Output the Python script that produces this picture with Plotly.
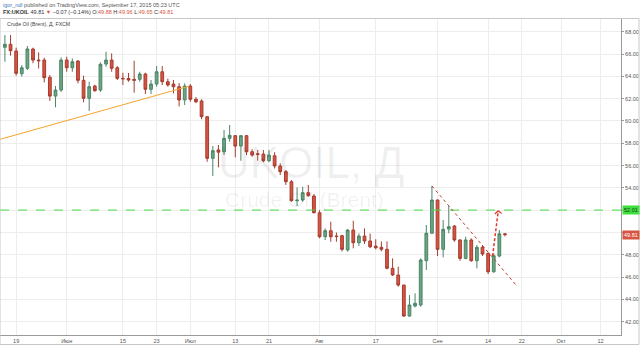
import pandas as pd
import plotly.graph_objects as go

# ---------------- data ----------------
dates = pd.bdate_range("2015-05-15", "2015-09-17")

opens = [66.60, 66.87, 66.27, 64.23, 64.72, 66.45, 65.46, 65.46, 63.91, 62.23, 62.77,
         65.46, 64.77, 65.37, 63.64, 62.03, 63.13, 62.77, 65.10, 65.46, 64.77, 63.82,
         63.80, 63.73, 63.73, 64.21, 62.84, 63.31, 64.41, 63.52, 63.31, 63.07, 61.88,
         63.13, 61.94, 61.79, 60.38, 56.65, 57.40, 57.24, 58.44, 58.68, 57.75, 58.68,
         57.24, 57.06, 57.03, 56.43, 56.88, 55.96, 55.45, 54.55, 52.85, 52.91, 53.57, 53.27,
         51.77, 49.62, 50.16, 49.68, 49.71, 48.43, 50.22, 49.08, 49.68, 49.24, 48.78,
         48.67, 48.49, 46.79, 46.19, 45.29, 42.51, 43.41, 43.50, 47.47, 49.93,
         52.91, 48.49, 50.31, 50.58, 49.33, 47.68, 49.33, 47.47, 48.67, 48.13, 46.48, 47.89, 49.88]
highs = [67.70, 67.70, 66.57, 65.01, 66.72, 66.57, 66.15, 65.67, 64.12, 63.13, 65.70,
         65.76, 65.61, 65.46, 64.06, 63.52, 63.25, 65.25, 66.20, 66.06, 64.92, 64.32,
         64.30, 65.40, 64.41, 64.32, 63.67, 64.92, 64.92, 63.80, 63.67, 63.40, 63.37,
         63.30, 62.15, 61.94, 60.44, 57.75, 57.84, 59.19, 59.64, 58.74, 58.74, 58.74,
         57.46, 57.40, 57.40, 57.40, 57.20, 56.20, 55.60, 54.70, 54.05, 54.10, 54.26, 53.45,
         52.00, 50.37, 50.97, 50.00, 49.80, 50.30, 51.05, 49.92, 50.37, 49.90, 49.39,
         49.20, 49.20, 47.68, 46.93, 45.30, 44.39, 44.55, 47.68, 50.67, 54.17,
         52.95, 51.12, 52.37, 50.67, 49.40, 49.62, 49.48, 48.88, 48.88, 48.19, 48.13, 50.22, 49.96]
lows = [65.31, 65.85, 64.06, 63.97, 64.57, 65.17, 64.70, 63.46, 61.79, 61.22, 62.60,
        64.41, 64.41, 63.37, 61.67, 60.89, 62.62, 62.60, 64.86, 64.41, 63.67, 63.22,
        63.52, 62.53, 63.52, 62.41, 62.41, 63.07, 63.22, 63.07, 62.47, 61.30, 61.43,
        61.72, 61.60, 60.15, 56.34, 55.06, 55.84, 56.94, 58.14, 56.74, 56.43, 56.94,
        56.79, 56.43, 56.30, 56.30, 55.74, 55.15, 54.26, 52.76, 52.37, 52.76, 53.20, 51.72,
        49.48, 49.33, 49.17, 49.17, 48.30, 48.28, 48.58, 48.79, 48.97, 48.60, 48.49,
        48.31, 46.70, 46.10, 45.14, 42.45, 42.45, 43.29, 43.35, 46.64, 49.90,
        47.89, 47.77, 49.93, 49.17, 47.47, 47.60, 47.38, 46.79, 47.89, 46.28, 46.39, 47.77, 49.65]
closes = [66.87, 66.30, 64.27, 64.77, 66.45, 65.46, 65.40, 63.88, 62.23, 62.77, 65.46,
          64.77, 65.31, 63.64, 62.03, 63.07, 62.71, 65.08, 65.46, 64.72, 63.82, 63.78,
          63.67, 63.65, 64.21, 62.84, 63.31, 64.41, 63.52, 63.22, 63.07, 61.88, 63.13,
          61.94, 61.72, 60.38, 56.65, 57.33, 57.20, 58.44, 58.71, 57.75, 58.68, 57.24,
          56.94, 57.00, 56.43, 56.94, 55.96, 55.45, 54.55, 52.85, 52.90, 53.57, 53.30, 51.77,
          49.62, 50.16, 49.62, 49.64, 48.49, 50.22, 49.08, 49.68, 49.24, 48.72, 48.63,
          48.49, 46.79, 46.19, 45.29, 42.51, 43.50, 43.65, 47.53, 49.93, 52.91,
          48.49, 50.28, 50.52, 49.33, 47.68, 49.33, 47.47, 48.67, 48.07, 46.48, 47.92, 49.88, 49.81]

x_tick_dates = ["2015-05-19", "2015-06-01", "2015-06-15", "2015-06-23", "2015-07-01",
                "2015-07-13", "2015-07-21", "2015-08-03", "2015-08-17", "2015-09-01",
                "2015-09-14", "2015-09-22", "2015-10-01", "2015-10-12"]
x_tick_labels = ["19", "Июн", "15", "23", "Июл", "13", "21", "Авг", "17", "Сен",
                 "14", "22", "Окт", "12"]
y_ticks = [42, 44, 46, 48, 50, 52, 54, 56, 58, 60, 62, 64, 66, 68]
y_hidden_labels = [50, 52]   # covered by the price labels in the reference

level_price = 52.01
last_price = 49.81

# drawings (date, price)
orange_line = [("2015-05-14 03:00", 58.35), ("2015-06-30 19:00", 63.12)]
red_trend = [("2015-08-31", 54.17), ("2015-09-21 01:40", 45.23)]
red_arrow = [("2015-09-14 19:12", 47.89), ("2015-09-15 19:12", 51.95)]
arrow_wings = [("2015-09-15 04:48", 51.66), ("2015-09-16 09:36", 51.70)]

x_range = ["2015-05-14 03:00", "2015-10-15 15:36"]
y_range = [40.81, 69.14]

# ---------------- styles ----------------
UP = "#6ba583"
UP_LINE = "#4a8566"
DN = "#d75442"
DN_LINE = "#a63d2f"
GRID = "#ededed"
FONT = "Liberation Sans, Arial, sans-serif"

fig = go.Figure()
fig.add_trace(go.Candlestick(
    x=dates, open=opens, high=highs, low=lows, close=closes,
    increasing=dict(fillcolor=UP, line=dict(color=UP_LINE, width=1)),
    decreasing=dict(fillcolor=DN, line=dict(color=DN_LINE, width=1)),
    whiskerwidth=0, hoverinfo="skip", showlegend=False,
))

fig.update_layout(
    width=640, height=347,
    margin=dict(l=0, r=19, t=19, b=12, autoexpand=False),
    paper_bgcolor="white", plot_bgcolor="white",
    showlegend=False,
    font=dict(family=FONT, size=5.5, color="#555"),
)
fig.update_xaxes(
    type="date", range=x_range,
    rangebreaks=[dict(bounds=["sat", "mon"])],
    tickmode="array", tickvals=x_tick_dates, ticktext=x_tick_labels, tickangle=0,
    showgrid=True, gridcolor=GRID, gridwidth=1,
    showline=True, linecolor="#9a9a9a", linewidth=1,
    ticks="", zeroline=False, rangeslider=dict(visible=False),
)
fig.update_yaxes(
    side="right", range=y_range,
    tickmode="array", tickvals=y_ticks,
    ticktext=["" if v in y_hidden_labels else f"{v:.2f}" for v in y_ticks],
    showgrid=True, gridcolor=GRID, gridwidth=1,
    showline=True, linecolor="#9a9a9a", linewidth=1,
    ticks="outside", ticklen=2, tickcolor="#9a9a9a", zeroline=False,
)

shapes = []
# horizontal level
shapes.append(dict(type="line", xref="paper", x0=0, x1=1, yref="y", y0=level_price, y1=level_price,
                   line=dict(color="#44dd44", width=1, dash="dash")))
# orange trend line
shapes.append(dict(type="line", xref="x", yref="y",
                   x0=orange_line[0][0], y0=orange_line[0][1], x1=orange_line[1][0], y1=orange_line[1][1],
                   line=dict(color="#f5a32a", width=1)))
# red dotted trend line
shapes.append(dict(type="line", xref="x", yref="y",
                   x0=red_trend[0][0], y0=red_trend[0][1], x1=red_trend[1][0], y1=red_trend[1][1],
                   line=dict(color="#c0392b", width=1, dash="dot")))
# red dashed arrow
shapes.append(dict(type="line", xref="x", yref="y",
                   x0=red_arrow[0][0], y0=red_arrow[0][1], x1=red_arrow[1][0], y1=red_arrow[1][1],
                   line=dict(color="#e03a2a", width=1.5, dash="3px,2px")))
for wx, wy in arrow_wings:
    shapes.append(dict(type="line", xref="x", yref="y",
                       x0=wx, y0=wy, x1=red_arrow[1][0], y1=red_arrow[1][1],
                       line=dict(color="#e03a2a", width=1.2)))
# outer frame
shapes.append(dict(type="rect", xref="paper", yref="paper", x0=0, x1=639 / 621,
                   y0=-9.5 / 316, y1=1 + 0.5 / 316, line=dict(color="#c8c8c8", width=1)))
fig.update_layout(shapes=shapes)

ann = []
# watermark
ann.append(dict(xref="paper", yref="paper", x=0.5, y=0.545, text="UKOIL, Д", showarrow=False,
                font=dict(family=FONT, size=44, color="rgba(0,0,0,0.06)")))
ann.append(dict(xref="paper", yref="paper", x=0.49, y=0.428, text="Crude Oil (Brent)", showarrow=False,
                font=dict(family=FONT, size=21, color="rgba(0,0,0,0.06)")))
# header
ann.append(dict(xref="paper", yref="paper", x=0.0, xanchor="left", y=(335 - 5) / 316, yanchor="middle",
                text='<span style="color:#3d7ebf">igor_ndl</span> published on TradingView.com, September 17, 2015 05:23 UTC',
                showarrow=False, xshift=1, font=dict(family=FONT, size=5.5, color="#555")))
red = "#d75442"
ann.append(dict(xref="paper", yref="paper", x=0.0, xanchor="left", y=(335 - 11.7) / 316, yanchor="middle",
                text=(f'<b>FX:UKOIL</b> 49.81 <span style="color:{red}">▼</span> −0.07 (−0.14%) '
                      f'O:<span style="color:{red}">49.88</span> H:<span style="color:{red}">49.96</span> '
                      f'L:<span style="color:{red}">49.65</span> C:<span style="color:{red}">49.81</span>'),
                showarrow=False, xshift=1, font=dict(family=FONT, size=5.5, color="#333")))
# chart title
ann.append(dict(xref="paper", yref="paper", x=0.0, xanchor="left", y=(335 - 24.3) / 316, yanchor="middle",
                text="Crude Oil (Brent), Д, FXCM", showarrow=False, xshift=5,
                font=dict(family=FONT, size=5.2, color="#444")))
# price labels
ann.append(dict(xref="paper", yref="y", x=1, xanchor="left", y=level_price, yanchor="middle",
                text=f"{level_price:.2f}", showarrow=False, xshift=1, bgcolor="#3ee03e", borderpad=1,
                font=dict(family=FONT, size=5.5, color="#1a3a1a")))
ann.append(dict(xref="paper", yref="y", x=1, xanchor="left", y=last_price, yanchor="middle",
                text=f"{last_price:.2f}", showarrow=False, xshift=1, bgcolor=red, borderpad=1,
                font=dict(family=FONT, size=5.5, color="white")))
fig.update_layout(annotations=ann)

fig.write_html("out.html")
